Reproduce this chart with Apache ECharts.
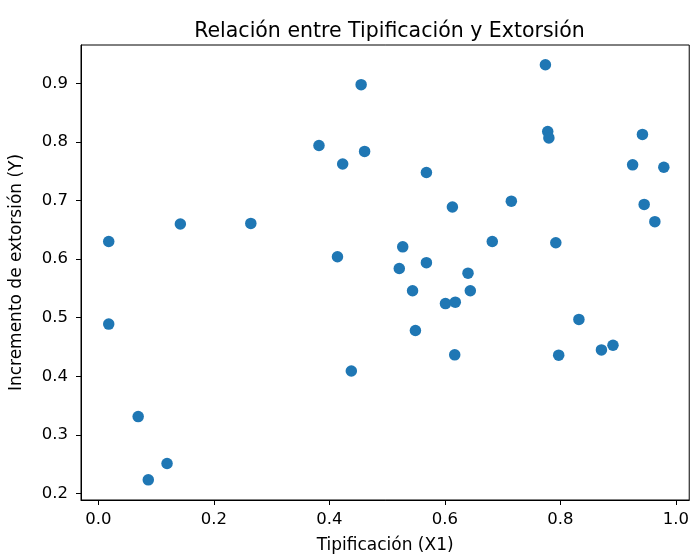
<!DOCTYPE html>
<html>
<head>
<meta charset="utf-8">
<script src="https://cdn.jsdelivr.net/npm/echarts@6/dist/echarts.min.js"></script>
<style>html,body{margin:0;padding:0;background:#fff}#c{width:692px;height:559px}</style>
</head>
<body>
<div id="c"></div>
<script>
const xValues = [0.018,0.142,0.264,0.018,0.069,0.0865,0.119,
  0.455,0.382,0.461,0.423,0.568,0.613,0.682,0.527,0.414,0.521,0.568,0.640,0.544,0.644,0.601,0.618,0.549,0.617,0.438,
  0.774,0.778,0.780,0.942,0.925,0.979,0.715,0.945,0.9635,0.792,0.832,0.797,0.871,0.891];
const yValues = [0.630,0.660,0.661,0.489,0.331,0.223,0.251,
  0.898,0.794,0.784,0.7625,0.748,0.689,0.630,0.621,0.604,0.584,0.594,0.576,0.546,0.546,0.524,0.5265,0.478,0.4365,0.409,
  0.932,0.818,0.807,0.813,0.761,0.757,0.699,0.6935,0.664,0.628,0.497,0.436,0.445,0.453];
const xTicks = [0.0,0.2,0.4,0.6,0.8,1.0];
const yTicks = [0.2,0.3,0.4,0.5,0.6,0.7,0.8,0.9];
const titleText = 'Relación entre Tipificación y Extorsión';
const xLabel = 'Tipificación (X1)';
const yLabel = 'Incremento de extorsión (Y)';

const pts = xValues.map((x,i)=>[x,yValues[i]]);
const font = 'DejaVu Sans';
const chart = echarts.init(document.getElementById('c'), null, {renderer:'canvas'});
chart.setOption({
  animation:false,
  backgroundColor:'#fff',
  title:{text:titleText,left:384.5,textAlign:'center',top:16,textStyle:{fontFamily:font,fontSize:20.5,fontWeight:'normal',color:'#000'}},
  grid:{left:78,right:1,top:45,bottom:56,show:true,borderColor:'#000',borderWidth:1,backgroundColor:'transparent'},
  xAxis:{type:'value',min:-0.03,max:1.023,
    name:xLabel,nameLocation:'middle',nameGap:37,nameTextStyle:{fontFamily:font,fontSize:17,color:'#000'},
    axisLine:{show:true,onZero:false,lineStyle:{color:'#000',width:1}},
    axisTick:{show:true,length:5,customValues:xTicks,lineStyle:{color:'#000'}},
    axisLabel:{customValues:xTicks,margin:11,fontFamily:font,fontSize:16.5,color:'#000',formatter:v=>v.toFixed(1)},
    splitLine:{show:false}},
  yAxis:{type:'value',min:0.1886,max:0.9657,
    name:yLabel,nameLocation:'middle',nameGap:56,nameRotate:90,nameTextStyle:{fontFamily:font,fontSize:17,color:'#000'},
    axisLine:{show:true,onZero:false,lineStyle:{color:'#000',width:1}},
    axisTick:{show:true,length:5,customValues:yTicks,lineStyle:{color:'#000'}},
    axisLabel:{customValues:yTicks,margin:13,fontFamily:font,fontSize:16.5,color:'#000',formatter:v=>v.toFixed(1)},
    splitLine:{show:false}},
  series:[{type:'scatter',data:pts,symbolSize:11.5,itemStyle:{color:'#1f77b4',opacity:1}}]
});
</script>
</body>
</html>
